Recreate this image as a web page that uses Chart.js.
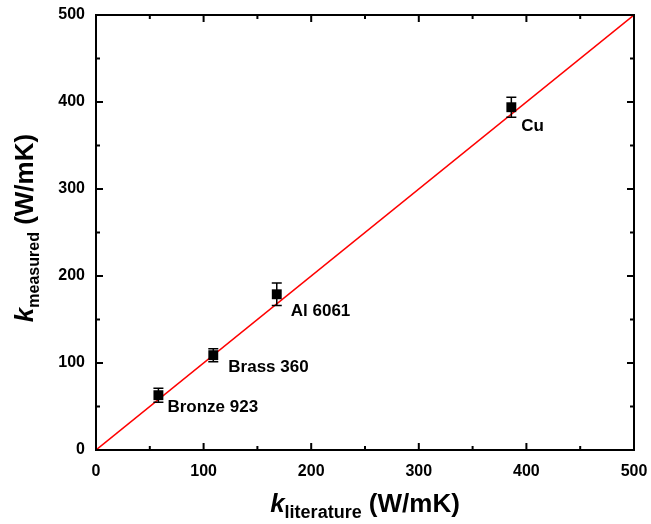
<!DOCTYPE html>
<html>
<head>
<meta charset="utf-8">
<script src="https://cdn.jsdelivr.net/npm/chart.js@4.4.1/dist/chart.umd.min.js"></script>
<style>
  html, body { margin: 0; padding: 0; background: #fff; }
  #wrap { width: 651px; height: 524px; position: relative; }
</style>
</head>
<body>
<div id="wrap"><canvas id="chart"></canvas></div>
<script>
// data
var materials = ["Bronze 923", "Brass 360", "Al 6061", "Cu"]
var kLiterature = [58, 109, 168, 386]
var kMeasured = [63, 109, 179, 394]
var kError = [8, 7.5, 13, 11.5]
var fitX = [0, 500]
var fitY = [0, 500]

// where each label sits relative to its point (px)
var labelOffset = [[9, 17], [15, 17], [14, 22], [10, 24]]

var FONT = "'Liberation Sans', Arial, sans-serif"

function pointdata(xs, ys) {
    var rtr = []
    for (var i = 0; i < xs.length; i++) {
        rtr.push({x: xs[i], y: ys[i]})
    }
    return rtr
}

var decor = {
    id: 'decor',
    afterDatasetsDraw: function (chart) {
        var ctx = chart.ctx
        var xs = chart.scales.x, ys = chart.scales.y
        var a = chart.chartArea
        ctx.save()
        // error bars
        ctx.strokeStyle = '#000'
        ctx.lineWidth = 1.5
        for (var i = 0; i < kLiterature.length; i++) {
            var px = xs.getPixelForValue(kLiterature[i])
            var top = ys.getPixelForValue(kMeasured[i] + kError[i])
            var bot = ys.getPixelForValue(kMeasured[i] - kError[i])
            ctx.beginPath()
            ctx.moveTo(px, top); ctx.lineTo(px, bot)
            ctx.moveTo(px - 5, top); ctx.lineTo(px + 5, top)
            ctx.moveTo(px - 5, bot); ctx.lineTo(px + 5, bot)
            ctx.stroke()
        }
        // labels
        ctx.fillStyle = '#000'
        ctx.font = 'bold 17px ' + FONT
        ctx.textAlign = 'left'
        ctx.textBaseline = 'alphabetic'
        for (var i = 0; i < materials.length; i++) {
            var px = xs.getPixelForValue(kLiterature[i])
            var py = ys.getPixelForValue(kMeasured[i])
            ctx.fillText(materials[i], px + labelOffset[i][0], py + labelOffset[i][1])
        }
        // frame
        ctx.lineWidth = 2
        ctx.strokeRect(a.left, a.top, a.right - a.left, a.bottom - a.top)
        // inward ticks on all four sides
        ctx.beginPath()
        xs.ticks.forEach(function (t) {
            var len = t.value % 100 === 0 ? 7 : 4
            var p = xs.getPixelForValue(t.value)
            ctx.moveTo(p, a.bottom); ctx.lineTo(p, a.bottom - len)
            ctx.moveTo(p, a.top); ctx.lineTo(p, a.top + len)
        })
        ys.ticks.forEach(function (t) {
            var len = t.value % 100 === 0 ? 7 : 4
            var p = ys.getPixelForValue(t.value)
            ctx.moveTo(a.left, p); ctx.lineTo(a.left + len, p)
            ctx.moveTo(a.right, p); ctx.lineTo(a.right - len, p)
        })
        ctx.stroke()
        ctx.restore()
    },
    afterDraw: function (chart) {
        var ctx = chart.ctx
        ctx.save()
        ctx.fillStyle = '#000'
        ctx.textBaseline = 'alphabetic'
        ctx.textAlign = 'left'
        drawtitle(ctx, 'literature', 18, 365, 512)
        ctx.translate(33, 228)
        ctx.rotate(-Math.PI / 2)
        drawtitle(ctx, 'measured', 16, 0, 0)
        ctx.restore()
    }
}

function drawtitle(ctx, sub, subsize, cx, base) {
    var big = 'bold 26px ' + FONT, bigk = 'italic bold 26px ' + FONT, small = 'bold ' + subsize + 'px ' + FONT
    ctx.font = bigk; var wk = ctx.measureText('k').width
    ctx.font = small; var ws = ctx.measureText(sub).width
    ctx.font = big; var wu = ctx.measureText(' (W/mK)').width
    var x = cx - (wk + ws + wu) / 2
    ctx.font = bigk; ctx.fillText('k', x, base); x += wk
    ctx.font = small; ctx.fillText(sub, x, base + 6); x += ws
    ctx.font = big; ctx.fillText(' (W/mK)', x, base)
}

var ticklabel = function (v) { return v % 100 === 0 ? v : '' }

var config = {
    type: 'scatter',
    data: {
        datasets: [{
            data: pointdata(kLiterature, kMeasured),
            pointStyle: 'rect',
            pointRadius: 7,
            backgroundColor: '#000',
            borderColor: '#000',
            borderWidth: 0
        }, {
            type: 'line',
            data: pointdata(fitX, fitY),
            borderColor: '#ff0000',
            borderWidth: 1.5,
            pointRadius: 0,
            fill: false
        }]
    },
    options: {
        responsive: false,
        animation: false,
        layout: { padding: { top: 15, right: 17, left: 0, bottom: 0 } },
        plugins: { legend: { display: false }, tooltip: { enabled: false } },
        scales: {
            x: {
                type: 'linear', min: 0, max: 500,
                grid: { display: false },
                border: { display: false },
                ticks: { stepSize: 50, autoSkip: false, maxRotation: 0, padding: 4, color: '#000',
                         font: { family: FONT, size: 16, weight: 'bold' }, callback: ticklabel },
                afterFit: function (s) { s.height = 74; s.paddingLeft = 0; s.paddingRight = 0 }
            },
            y: {
                type: 'linear', min: 0, max: 500,
                grid: { display: false },
                border: { display: false },
                ticks: { stepSize: 50, autoSkip: false, padding: 3, color: '#000',
                         font: { family: FONT, size: 16, weight: 'bold' }, callback: ticklabel },
                afterFit: function (s) { s.width = 96; s.paddingTop = 0; s.paddingBottom = 0 }
            }
        }
    },
    plugins: [decor]
}

var canvas = document.getElementById('chart')
canvas.width = 651
canvas.height = 524
var chart = new Chart(canvas.getContext('2d'), config)
</script>
</body>
</html>
